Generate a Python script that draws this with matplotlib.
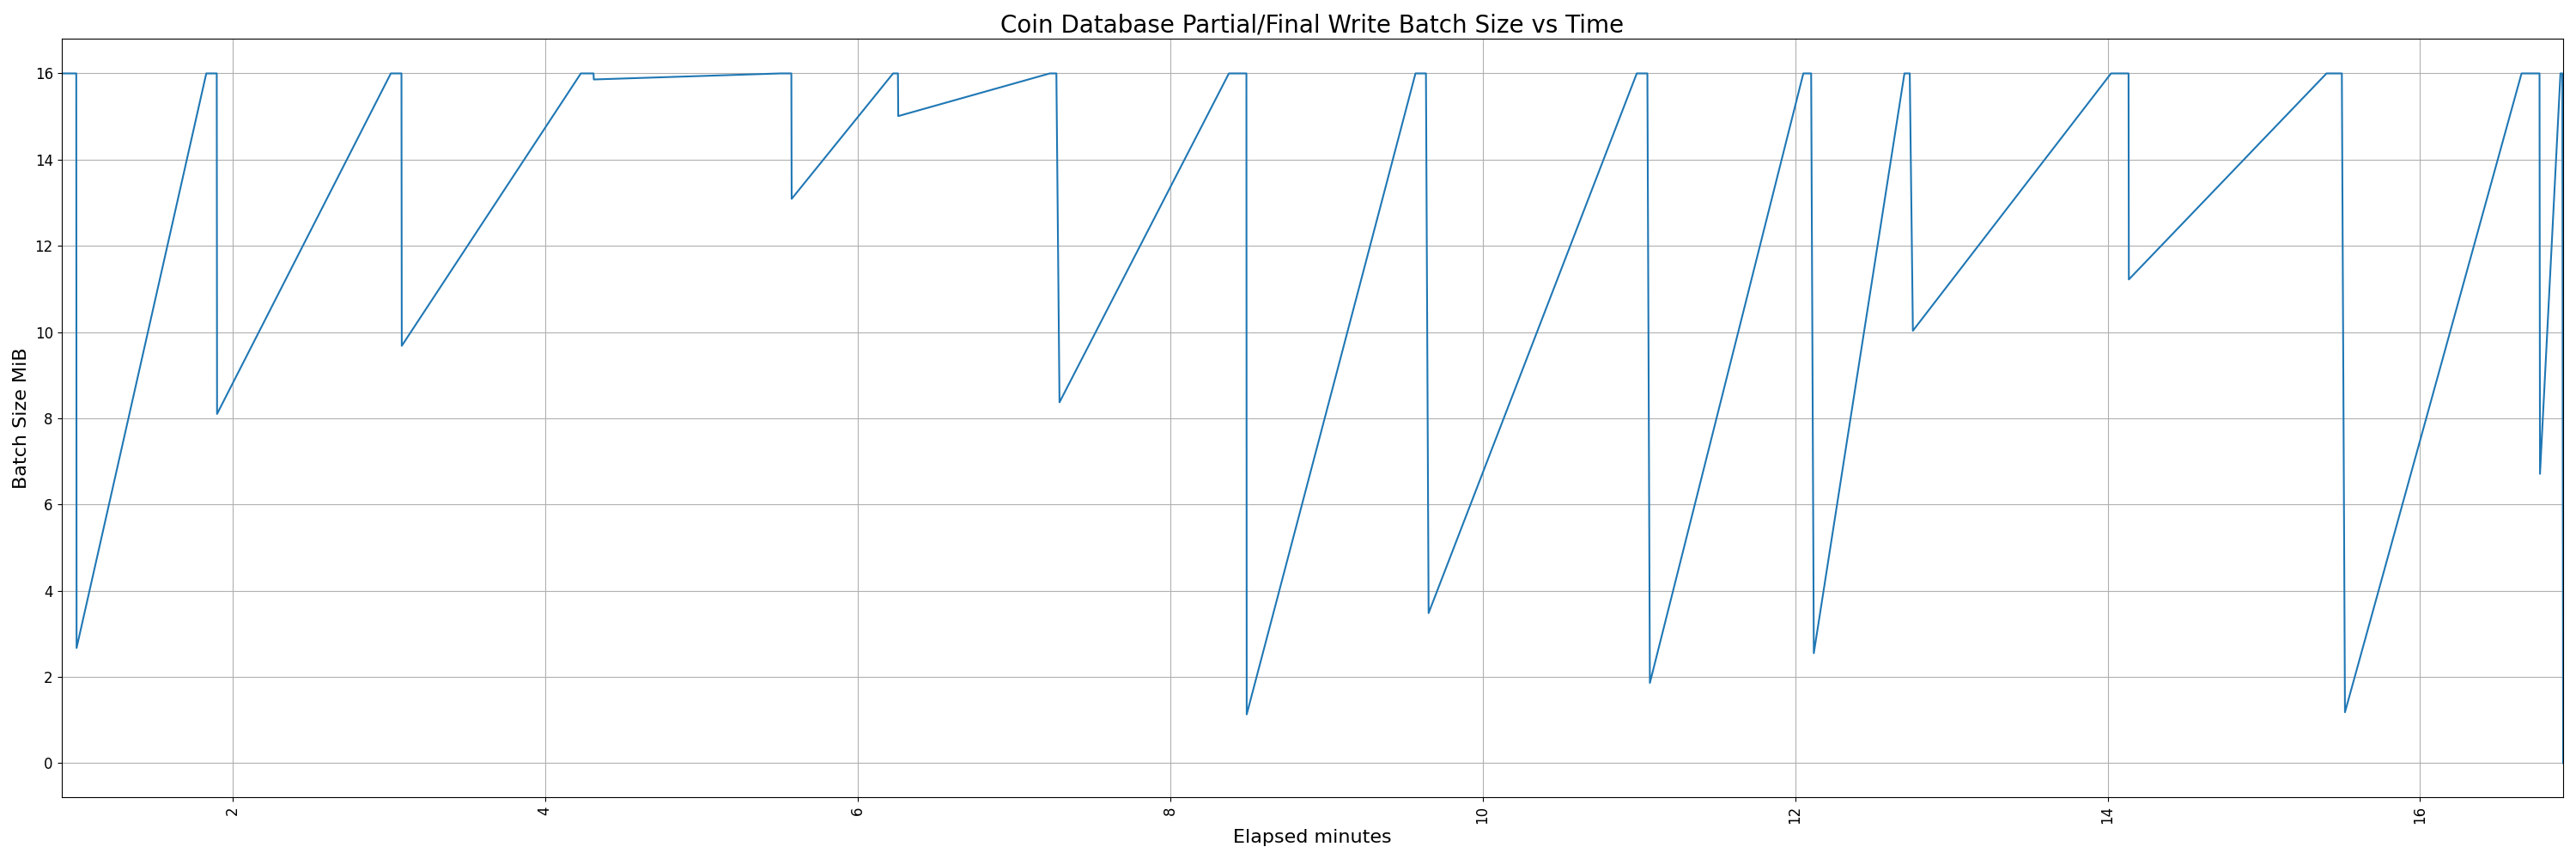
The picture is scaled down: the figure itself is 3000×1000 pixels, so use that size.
import numpy as np
import matplotlib
matplotlib.use("Agg")
import matplotlib.pyplot as plt

# elapsed minutes / batch size (MiB), vertices
minutes = [0.906, 1.001, 1.003, 1.833, 1.900, 1.902, 3.014, 3.082, 3.084,
           4.230, 4.311, 4.313, 5.509, 5.577, 5.579, 6.228, 6.259, 6.261,
           7.231, 7.273, 7.293, 8.377, 8.489, 8.491, 9.571, 9.638, 9.655,
           10.987, 11.055, 11.071, 12.053, 12.103, 12.120, 12.700, 12.734,
           12.754, 14.022, 14.134, 14.136, 15.401, 15.499, 15.519, 16.649,
           16.764, 16.767, 16.898, 16.910, 16.915]
batch_mib = [16, 16, 2.67, 16, 16, 8.10, 16, 16, 9.68,
             16, 16, 15.86, 16, 16, 13.09, 16, 16, 15.01,
             16, 16, 8.37, 16, 16, 1.13, 16, 16, 3.48,
             16, 16, 1.86, 16, 16, 2.55, 16, 16,
             10.03, 16, 16, 11.22, 16, 16, 1.18, 16,
             16, 6.71, 16, 16, 0]

x = np.array(minutes)
y = np.array(batch_mib)

fig, ax = plt.subplots(figsize=(30, 10), dpi=100)
ax.plot(x, y)
ax.set_xlim(x.min(), x.max())
ax.set_title("Coin Database Partial/Final Write Batch Size vs Time", fontsize=20)
ax.set_xlabel("Elapsed minutes", fontsize=16)
ax.set_ylabel("Batch Size MiB", fontsize=16)
ax.tick_params(axis="both", labelsize=12)
plt.xticks(rotation=90)
ax.grid(True)
plt.tight_layout()
plt.savefig("out.png")
